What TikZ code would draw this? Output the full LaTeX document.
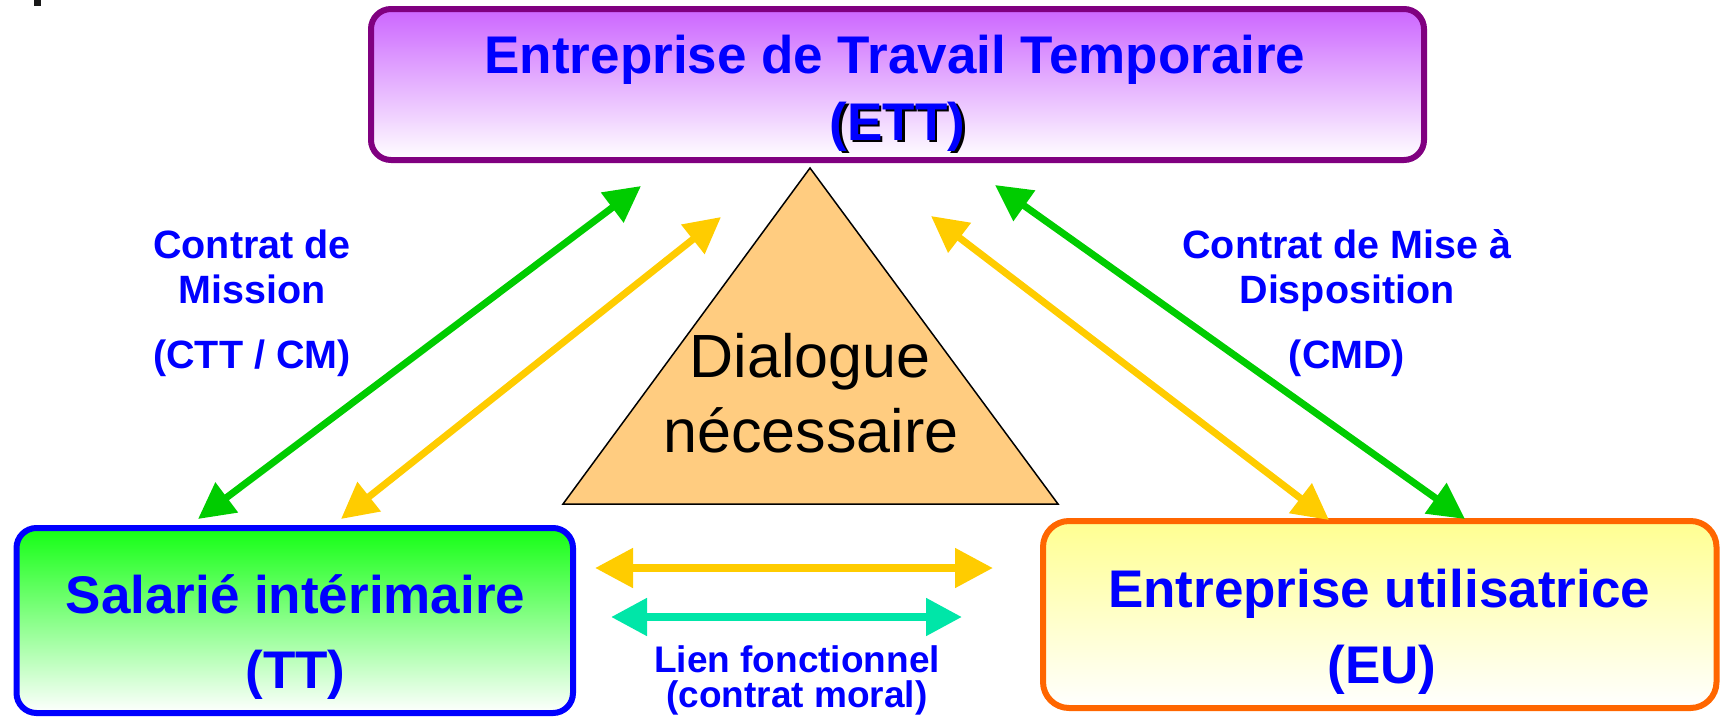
\documentclass[tikz,border=0pt]{standalone}
\usepackage{fontspec}
\setmainfont{Liberation Sans}
\usetikzlibrary{arrows.meta}
\definecolor{txtblue}{RGB}{0,0,255}
\definecolor{ettborder}{RGB}{128,0,128}
\definecolor{etttop}{RGB}{204,102,255}
\definecolor{ttborder}{RGB}{0,0,255}
\definecolor{tttop}{RGB}{20,255,20}
\definecolor{euborder}{RGB}{255,102,0}
\definecolor{eutop}{RGB}{255,255,145}
\definecolor{trifill}{RGB}{255,204,128}
\definecolor{arrgreen}{RGB}{0,204,0}
\definecolor{arryellow}{RGB}{255,204,0}
\definecolor{arrteal}{RGB}{0,230,168}
\tikzset{
  entbox/.style={draw, line width=6pt, rounded corners=20pt, inner sep=0pt, bottom color=white},
  boxtxt/.style={text=txtblue, font=\fontsize{53}{60}\selectfont\bfseries, inner sep=0pt, anchor=base},
  lbltxt/.style={text=txtblue, font=\fontsize{39.5}{44}\selectfont\bfseries, inner sep=0pt, anchor=base},
  lientxt/.style={text=txtblue, font=\fontsize{37}{40}\selectfont\bfseries, inner sep=0pt, anchor=base},
  tritxt/.style={text=black, font=\fontsize{61}{70}\selectfont, inner sep=0pt, anchor=base},
  dblarrow/.style={line width=7pt, {Triangle[length=36pt,width=36pt]}-{Triangle[length=36pt,width=36pt]}},
}
\begin{document}
\begin{tikzpicture}[x=1pt,y=-1pt]
\useasboundingbox (0,0) rectangle (1723,720);
\fill[black!90] (34,0) rectangle (41,6);

% boxes
\node[entbox, draw=ettborder, top color=etttop, minimum width=1053pt, minimum height=151pt] (ett) at (897.5,84.5) {};
\node[entbox, draw=ttborder, top color=tttop, minimum width=556.5pt, minimum height=185pt] (tt) at (294.75,620.5) {};
\node[entbox, draw=euborder, top color=eutop, rounded corners=26pt, minimum width=673.5pt, minimum height=187pt] (eu) at (1379.75,614.5) {};

% box texts
\node[boxtxt] (ett1) at (895,73) {Entreprise de Travail Temporaire};
\node[boxtxt, text=black] (ett2s) at (900,142.5) {(ETT)};
\node[boxtxt] (ett2) at (897.5,140) {(ETT)};
\node[boxtxt] (tt1) at (295.5,613) {Salarié intérimaire};
\node[boxtxt] (tt2) at (295.5,688) {(TT)};
\node[boxtxt] (eu1) at (1379,607) {Entreprise utilisatrice};
\node[boxtxt] (eu2) at (1382,683) {(EU)};

% triangle
\coordinate (apex) at (810,168);
\coordinate (bright) at (1058,504);
\coordinate (bleft) at (563,504);
\filldraw[fill=trifill, draw=black, line width=1.5pt, line join=miter] (apex) -- (bright) -- (bleft) -- cycle;
\node[tritxt] (dia1) at (810,377) {Dialogue};
\node[tritxt] (dia2) at (811,452) {nécessaire};

% arrow ends
\coordinate (glA) at (198,519);
\coordinate (glB) at (641,186);
\coordinate (ylA) at (341,519);
\coordinate (ylB) at (721,217);
\coordinate (yrA) at (931,216);
\coordinate (yrB) at (1329,520);
\coordinate (grA) at (995,185);
\coordinate (grB) at (1465,519);
\coordinate (hyA) at (595,568);
\coordinate (hyB) at (993,568);
\coordinate (htA) at (611,617);
\coordinate (htB) at (962,617);

\draw[dblarrow, arrgreen] (glA) -- (glB);
\draw[dblarrow, arryellow] (ylA) -- (ylB);
\draw[dblarrow, arryellow] (yrA) -- (yrB);
\draw[dblarrow, arrgreen] (grA) -- (grB);
\draw[dblarrow, arryellow, line width=8pt, {Triangle[length=38pt,width=38pt]}-{Triangle[length=38pt,width=38pt]}] (hyA) -- (hyB);
\draw[dblarrow, arrteal, line width=8pt] (htA) -- (htB);

% labels
\node[lbltxt] (cm1) at (252,258) {Contrat de};
\node[lbltxt] (cm2) at (252,303) {Mission};
\node[lbltxt] (cm3) at (252,368) {(CTT / CM)};
\node[lbltxt] (cmd1) at (1347,258) {Contrat de Mise à};
\node[lbltxt] (cmd2) at (1347,303) {Disposition};
\node[lbltxt] (cmd3) at (1347,368) {(CMD)};
\node[lientxt] (lien1) at (797,672) {Lien fonctionnel};
\node[lientxt] (lien2) at (797,707) {(contrat moral)};
\end{tikzpicture}
\end{document}
